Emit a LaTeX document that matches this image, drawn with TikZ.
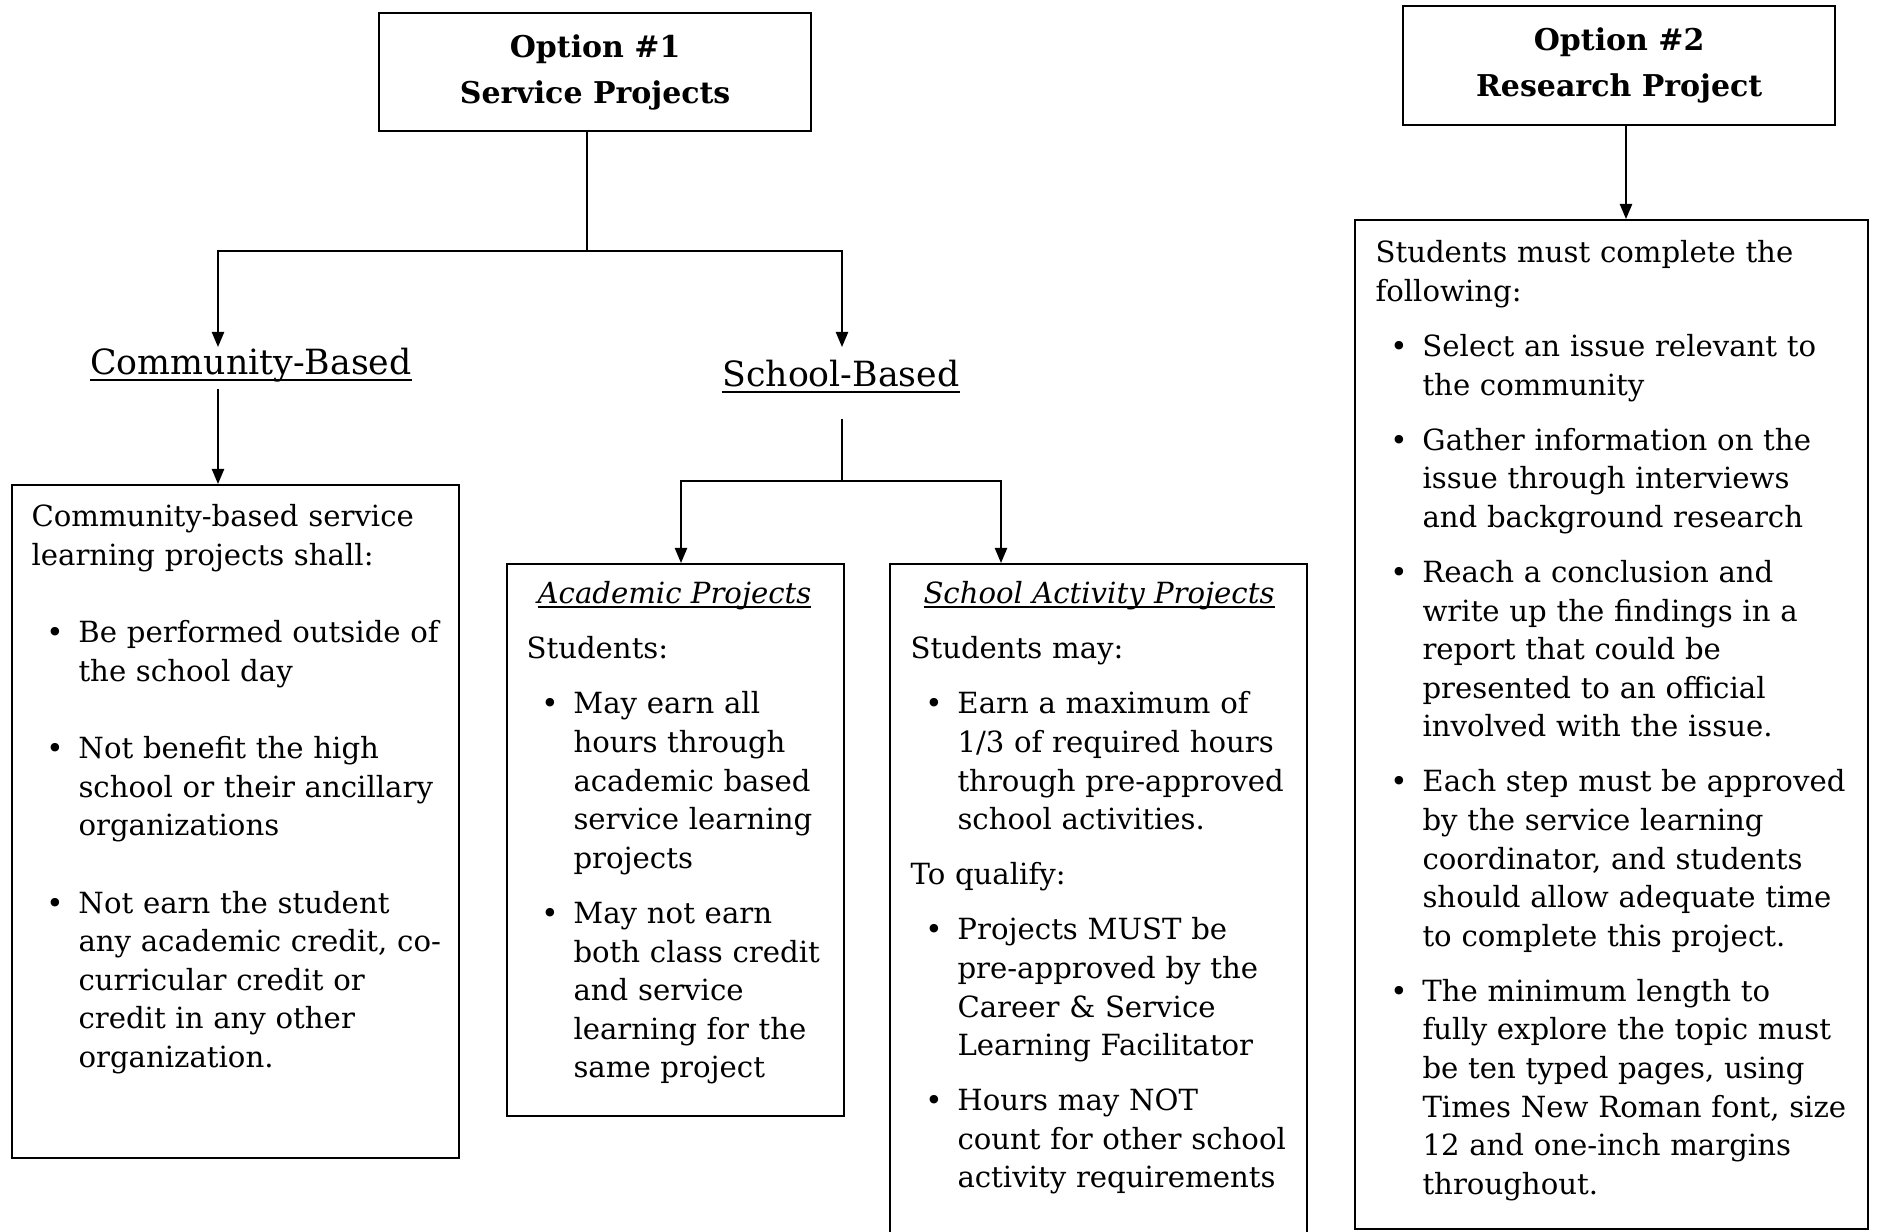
\documentclass[tikz,border=0pt]{standalone}
\usepackage{fontspec}
\setmainfont{DejaVu Serif}
\usetikzlibrary{arrows.meta}
\newcommand{\bodyfs}{\fontsize{10.5pt}{13.9pt}\selectfont}
\newcommand{\headfs}{\fontsize{12.5pt}{16.6pt}\selectfont}
\newcommand{\titlefs}{\fontsize{10.8pt}{16.6pt}\selectfont}
\newcommand{\bitem}[1]{\par\hangindent=16.9pt\hangafter=0\noindent\llap{\makebox[17pt][c]{\textbullet}}#1\par}
\newcommand{\plainp}[1]{\par\noindent #1\par}
\newcommand{\firstp}[1]{#1\par}
\newcommand{\ulx}[2]{\setbox0\hbox{#2}\rlap{\rule[-#1]{\wd0}{0.6pt}}\box0}
\begin{document}
\begin{tikzpicture}[x=0.36pt,y=-0.36pt,
  frame/.style={draw, line width=0.8pt, inner sep=0pt, anchor=north west},
  titlebox/.style={frame, align=center, font=\titlefs\bfseries},
  body/.style={anchor=base west, inner sep=0pt, text width=260pt, font=\bodyfs},
  headtxt/.style={anchor=base, inner sep=0pt, font=\headfs},
  subtitle/.style={anchor=base, inner sep=0pt, font=\bodyfs\itshape},
  conn/.style={line width=0.6pt},
  arr/.style={conn, -{Triangle[length=5.4pt,width=4.4pt]}}]
\clip (0,0) rectangle (1877,1232);
\fill[white] (0,0) rectangle (1877,1232);

% title boxes
\node[titlebox, minimum width=155.52pt, minimum height=42.48pt] (opt1) at (378,12) {Option \#1\\Service Projects};
\node[titlebox, minimum width=155.52pt, minimum height=42.84pt] (opt2) at (1402,5) {Option \#2\\Research Project};

% headings
\node[headtxt] (comhead) at (251,375) {\ulx{2.2pt}{Community-Based}};
\node[headtxt] (schhead) at (841,387) {\ulx{2.2pt}{School-Based}};

% content frames
\node[frame, minimum width=160.92pt, minimum height=242.28pt] (combox) at (11,484) {};
\node[frame, minimum width=121.32pt, minimum height=198.72pt] (acabox) at (506,563) {};
\node[frame, minimum width=150.12pt, minimum height=247.32pt] (actbox) at (889,563) {};
\node[frame, minimum width=184.68pt, minimum height=363.24pt] (resbox) at (1354,219) {};

% subtitles
\node[subtitle] (acatitle) at (674.5,604) {\ulx{1.4pt}{Academic Projects}};
\node[subtitle] (acttitle) at (1099,604) {\ulx{1.4pt}{School Activity Projects}};

% texts
\node[body] (comtxt) at (31,527) {\setlength{\parskip}{13.9pt}%
\firstp{Community-based service\newline learning projects shall:}%
\bitem{Be performed outside of\newline the school day}%
\bitem{Not benefit the high\newline school or their ancillary\newline organizations}%
\bitem{Not earn the student\newline any academic credit, co-\newline curricular credit or\newline credit in any other\newline organization.}};

\node[body] (acatxt) at (526,659) {\setlength{\parskip}{5.9pt}%
\firstp{Students:}%
\bitem{May earn all\newline hours through\newline academic based\newline service learning\newline projects}%
\bitem{May not earn\newline both class credit\newline and service\newline learning for the\newline same project}};

\node[body] (acttxt) at (910,659) {\setlength{\parskip}{5.9pt}%
\firstp{Students may:}%
\bitem{Earn a maximum of\newline 1/3 of required hours\newline through pre-approved\newline school activities.}%
\plainp{To qualify:}%
\bitem{Projects MUST be\newline pre-approved by the\newline Career \& Service\newline Learning Facilitator}%
\bitem{Hours may NOT\newline count for other school\newline activity requirements}};

\node[body] (restxt) at (1375,263) {\setlength{\parskip}{5.9pt}%
\firstp{Students must complete the\newline following:}%
\bitem{Select an issue relevant to\newline the community}%
\bitem{Gather information on the\newline issue through interviews\newline and background research}%
\bitem{Reach a conclusion and\newline write up the findings in a\newline report that could be\newline presented to an official\newline involved with the issue.}%
\bitem{Each step must be approved\newline by the service learning\newline coordinator, and students\newline should allow adequate time\newline to complete this project.}%
\bitem{The minimum length to\newline fully explore the topic must\newline be ten typed pages, using\newline Times New Roman font, size\newline 12 and one-inch margins\newline throughout.}};

% connectors
\coordinate (j1) at (587,251);
\coordinate (jL) at (218,251);
\coordinate (jR) at (842,251);
\coordinate (tL) at (218,347);
\coordinate (tR) at (842,347);
\draw[conn] (opt1.south -| j1) -- (j1);
\draw[arr] (j1) -- (jL) -- (tL);
\draw[arr] (j1) -- (jR) -- (tR);

\coordinate (cs) at (218,389);
\draw[arr] (cs) -- (cs |- combox.north);

\coordinate (ss) at (842,419);
\coordinate (sj) at (842,481);
\coordinate (sjL) at (681,481);
\coordinate (sjR) at (1001,481);
\draw[conn] (ss) -- (sj);
\draw[arr] (sj) -- (sjL) -- (sjL |- acabox.north);
\draw[arr] (sj) -- (sjR) -- (sjR |- actbox.north);

\coordinate (o2) at (1626,124);
\draw[arr] (opt2.south -| o2) -- (o2 |- resbox.north);
\end{tikzpicture}
\end{document}
